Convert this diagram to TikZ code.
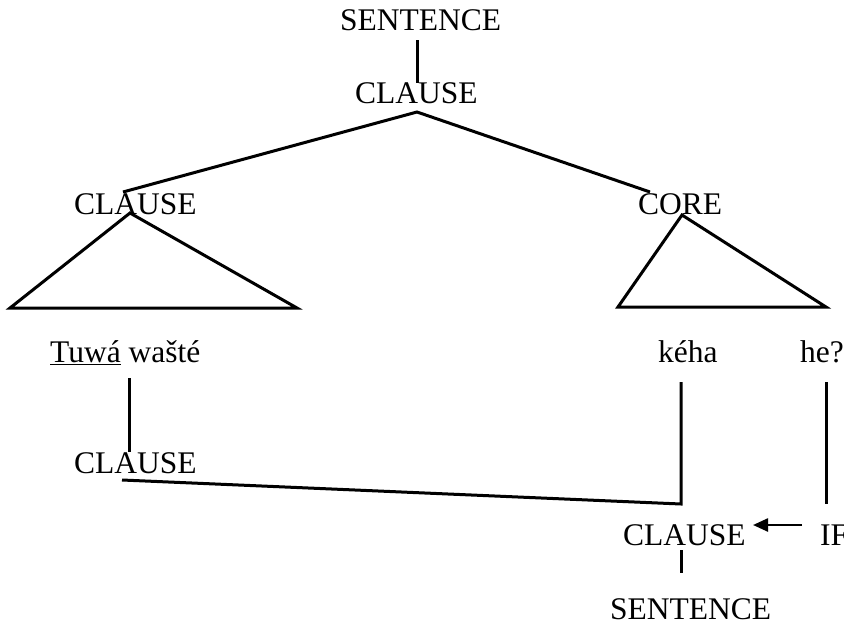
\documentclass[tikz,border=0pt]{standalone}
\usepackage{fontspec}
\setmainfont{Liberation Serif}
\usetikzlibrary{arrows.meta}
\begin{document}
\begin{tikzpicture}[x=1pt,y=-1pt,
  lbl/.style={anchor=base west,inner sep=0pt,font=\fontsize{31.5}{32}\selectfont},
  edge/.style={line width=3pt,line join=miter},
  thinarrow/.style={line width=2.4pt,-{Triangle[length=15pt,width=13pt]}}]
\useasboundingbox (0,0) rectangle (844,624);
% texts
\node[lbl] (s1) at (340,30) {SENTENCE};
\node[lbl] (c1) at (355,103) {CLAUSE};
\node[lbl] (c2) at (74,214) {CLAUSE};
\node[lbl] (core) at (638,214) {CORE};
\node[lbl] (tw) at (50,362) {\underline{Tuwá} wašté};
\node[lbl] (keha) at (658,362) {kéha};
\node[lbl] (he) at (800,362) {he?};
\node[lbl] (c3) at (74,473) {CLAUSE};
\node[lbl] (c4) at (623,545) {CLAUSE};
\node[lbl] (ifn) at (820,545) {IF};
\node[lbl] (s2) at (610,619) {SENTENCE};
% coordinates
\coordinate (a0) at (417,40);
\coordinate (a1) at (417,83);
\coordinate (ap) at (417,112);
\coordinate (lt) at (123,192);
\coordinate (rt) at (650,192);
\coordinate (t1a) at (130,213);
\coordinate (t1l) at (10,308);
\coordinate (t1r) at (297,308);
\coordinate (t2a) at (682,215);
\coordinate (t2l) at (618,307);
\coordinate (t2r) at (826,307);
\coordinate (v1a) at (129,378);
\coordinate (v1b) at (129,452);
\coordinate (h1a) at (122,480);
\coordinate (h1b) at (681,504);
\coordinate (v2a) at (681,382);
\coordinate (v3a) at (826,382);
\coordinate (v3b) at (826,504);
\coordinate (arA) at (802,525);
\coordinate (arB) at (753,525);
\coordinate (v4a) at (681,550);
\coordinate (v4b) at (681,573);
% lines
\draw[edge] (a0) -- (a1);
\draw[edge] (lt) -- (ap) -- (rt);
\draw[edge] (t1a) -- (t1l) -- (t1r) -- cycle;
\draw[edge] (t2a) -- (t2l) -- (t2r) -- cycle;
\draw[edge] (v1a) -- (v1b);
\draw[edge] (h1a) -- (h1b) -- (v2a);
\draw[edge] (v3a) -- (v3b);
\draw[thinarrow] (arA) -- (arB);
\draw[edge] (v4a) -- (v4b);
\end{tikzpicture}
\end{document}
